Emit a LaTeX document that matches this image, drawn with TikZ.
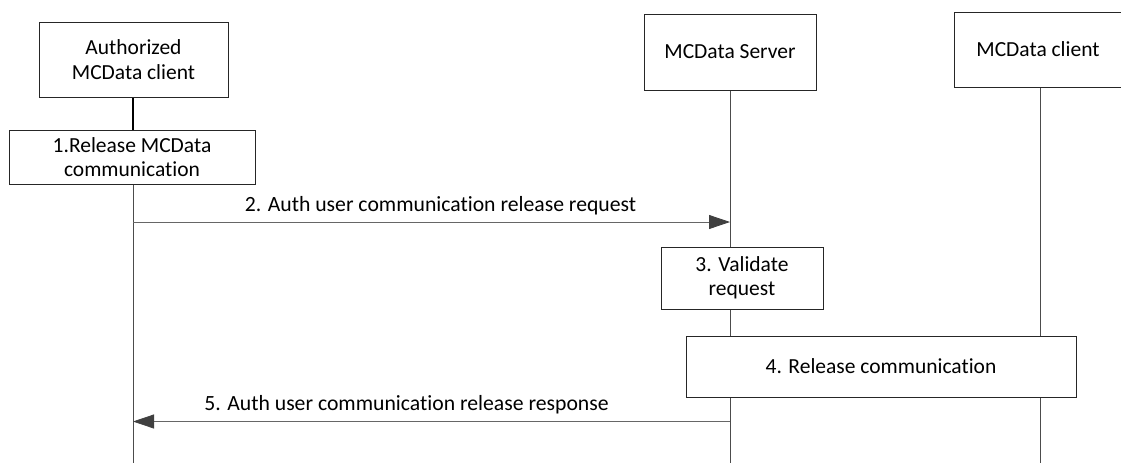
\documentclass[tikz,border=0pt]{standalone}
\usepackage{fontspec}
\setmainfont[Ligatures=NoCommon]{Carlito}
\usetikzlibrary{arrows.meta}
\begin{document}
\begin{tikzpicture}[x=1pt,y=-1pt,
  box/.style={draw=black!85,line width=0.8pt,fill=white,inner sep=0pt,align=center,font=\fontsize{21.5}{24.5}\selectfont},
  life/.style={draw=black!70,line width=0.8pt},
  msg/.style={draw=black!60,line width=0.8pt,-{Triangle[length=21pt,width=14pt,fill=black!75,color=black!75]}},
  lbl/.style={font=\fontsize{21.7}{24}\selectfont,inner sep=0pt,anchor=base}]
\useasboundingbox (0,0) rectangle (1121,463);
% lifelines
\coordinate (aTop) at (133,97);
\coordinate (aBot) at (133,463);
\coordinate (sTop) at (730,90);
\coordinate (sBot) at (730,463);
\coordinate (cTop) at (1040,87);
\coordinate (cBot) at (1040,463);
\draw[life] (aTop) -- (aBot);
\draw[life] (sTop) -- (sBot);
\draw[life] (cTop) -- (cBot);
\draw[draw=black,line width=2pt] (133,97) -- (133,130);
% header boxes
\node[box,minimum width=189pt,minimum height=75pt] (A) at (133.5,59.5) {Authorized\\MCData client};
\node[box,minimum width=172pt,minimum height=76pt] (S) at (730,52) {MCData Server};
\node[box,minimum width=168pt,minimum height=75pt] (C) at (1038,49.5) {MCData client};
% step boxes
\node[box,minimum width=246pt,minimum height=54pt] (B1) at (132,157) {1.Release MCData\\communication};
\node[box,minimum width=162pt,minimum height=62pt] (B3) at (742,278) {3. Validate\\request};
\node[box,minimum width=390pt,minimum height=61pt] (B4) at (881,366.5) {4. Release communication};
% messages
\coordinate (m2a) at (133,222);
\coordinate (m2b) at (730,222);
\coordinate (m5a) at (730,421.5);
\coordinate (m5b) at (133,421.5);
\draw[msg] (m2a) -- (m2b);
\draw[msg] (m5a) -- (m5b);
\node[lbl] (L2) at (440.5,211) {2. Auth user communication release request};
\node[lbl] (L5) at (406.5,410.5) {5. Auth user communication release response};
\end{tikzpicture}
\end{document}
